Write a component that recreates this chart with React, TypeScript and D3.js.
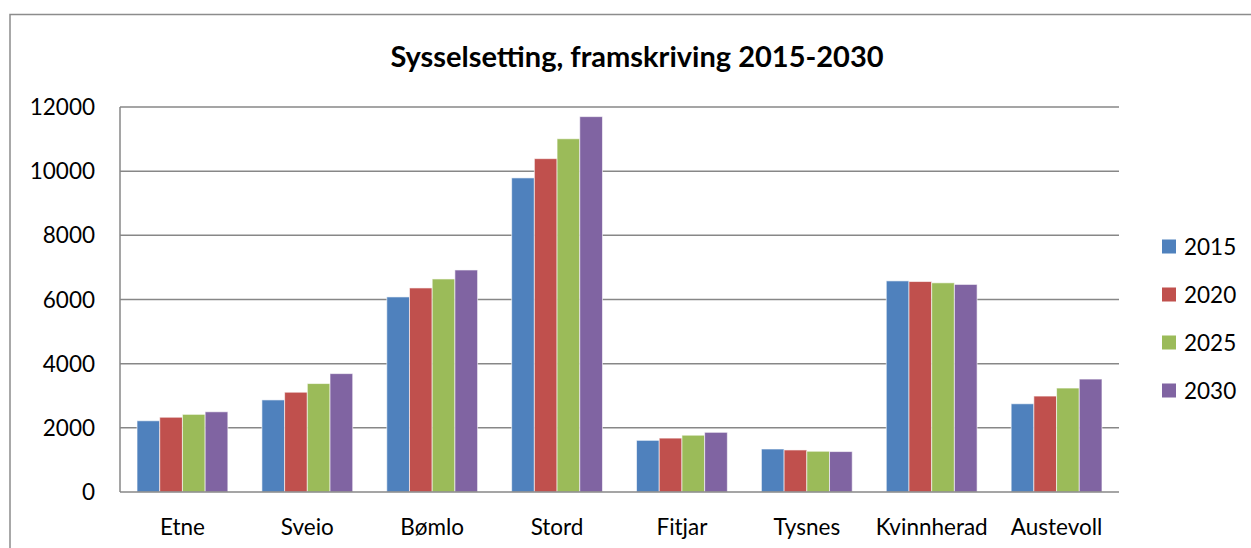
import React, { useEffect, useRef } from "react";
import * as d3 from "d3";

const categories = ["Etne", "Sveio", "Bømlo", "Stord", "Fitjar", "Tysnes", "Kvinnherad", "Austevoll"];
const years = ["2015", "2020", "2025", "2030"];
const v2015 = [2220, 2870, 6080, 9790, 1610, 1340, 6580, 2750];
const v2020 = [2330, 3110, 6360, 10390, 1680, 1310, 6560, 2990];
const v2025 = [2420, 3380, 6640, 11010, 1770, 1270, 6520, 3240];
const v2030 = [2500, 3690, 6920, 11700, 1860, 1260, 6470, 3520];
const yTicks = [0, 2000, 4000, 6000, 8000, 10000, 12000];
const colors = ["#4F81BD", "#C0504D", "#9BBB59", "#8064A2"];
const title = "Sysselsetting, framskriving 2015-2030";

const W = 1251, H = 548;
const plot = { left: 120, right: 1119, top: 107, bottom: 492 };
const FONT = "Lato, 'Open Sans', sans-serif";

export default function App() {
    const ref = useRef<SVGSVGElement>(null);

    useEffect(() => {
        const svg = d3.select(ref.current);
        svg.selectAll("*").remove();

        const series = [v2015, v2020, v2025, v2030];

        const x0 = d3.scaleBand().domain(categories).range([plot.left, plot.right]);
        const bw = x0.bandwidth();
        const gap = (bw / 5.5) * 0.75;
        const x1 = d3.scaleBand().domain(years).range([gap, bw - gap]);
        const y = d3.scaleLinear().domain([0, 12000]).range([plot.bottom, plot.top]);

        // outer chart frame (runs off the right and bottom edge)
        svg.append("rect")
            .attr("x", 10).attr("y", 14.5)
            .attr("width", W + 20).attr("height", H + 20)
            .attr("fill", "#fff")
            .attr("stroke", "#8c8c8c")
            .attr("stroke-width", 1.5);

        svg.append("text")
            .attr("x", 637).attr("y", 67)
            .attr("text-anchor", "middle")
            .style("font-family", FONT)
            .style("font-weight", "bold")
            .style("font-size", "29px")
            .text(title);

        const g = svg.append("g");

        // gridlines
        g.selectAll(".grid")
            .data(yTicks.filter(t => t > 0))
            .join("line")
            .attr("x1", plot.left).attr("x2", plot.right)
            .attr("y1", d => y(d)).attr("y2", d => y(d))
            .attr("stroke", "#878787")
            .attr("stroke-width", 1.5);

        // y labels
        g.selectAll(".ylab")
            .data(yTicks)
            .join("text")
            .attr("x", 95)
            .attr("y", d => y(d))
            .attr("dy", "0.36em")
            .attr("text-anchor", "end")
            .style("font-family", FONT)
            .style("font-size", "22.5px")
            .text(d => d);

        // bars
        const grp = g.selectAll(".grp")
            .data(categories)
            .join("g")
            .attr("transform", d => `translate(${x0(d)},0)`);

        grp.selectAll("rect")
            .data((d, i) => years.map((yr, j) => ({ yr, v: series[j][i], c: colors[j] })))
            .join("rect")
            .attr("x", d => x1(d.yr))
            .attr("y", d => y(d.v))
            .attr("width", x1.bandwidth())
            .attr("height", d => plot.bottom - y(d.v))
            .attr("fill", d => d.c)
            .attr("stroke", "rgba(255,255,255,0.6)")
            .attr("stroke-width", 1);

        // axes lines
        g.append("line")
            .attr("x1", plot.left).attr("x2", plot.left)
            .attr("y1", plot.top).attr("y2", plot.bottom)
            .attr("stroke", "#878787").attr("stroke-width", 1.5);
        g.append("line")
            .attr("x1", plot.left).attr("x2", plot.right)
            .attr("y1", plot.bottom).attr("y2", plot.bottom)
            .attr("stroke", "#878787").attr("stroke-width", 1.5);

        // category labels
        g.selectAll(".xlab")
            .data(categories)
            .join("text")
            .attr("x", d => x0(d) + bw / 2)
            .attr("y", 535)
            .attr("text-anchor", "middle")
            .style("font-family", FONT)
            .style("font-size", "22.5px")
            .text(d => d);

        // legend
        const leg = svg.selectAll(".leg")
            .data(years)
            .join("g")
            .attr("transform", (d, i) => `translate(1162,${246.5 + i * 48})`);
        leg.append("rect")
            .attr("x", 0).attr("y", -7)
            .attr("width", 14).attr("height", 14)
            .attr("fill", (d, i) => colors[i]);
        leg.append("text")
            .attr("x", 22).attr("y", 0)
            .attr("dy", "0.36em")
            .style("font-family", FONT)
            .style("font-size", "22.5px")
            .text(d => d);
    }, []);

    return (
        <svg ref={ref} width={W} height={H}
            style={{ position: "absolute", left: 0, top: 0, background: "#fff" }} />
    );
}
